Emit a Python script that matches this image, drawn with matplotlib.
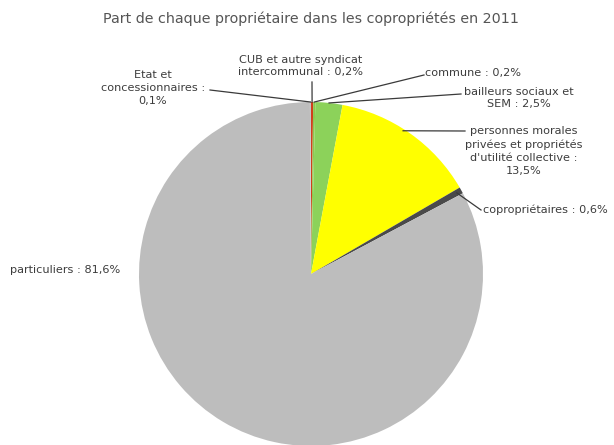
import matplotlib.pyplot as plt
import numpy as np

# share of each owner type, in drawing order (clockwise from the top)
owners = ["CUB", "commune", "bailleurs", "personnes morales", "copropriétaires", "particuliers", "Etat"]
shares = [0.2, 0.2, 2.5, 13.5, 0.6, 81.6, 0.1]
colors = ["#d0401c", "#8cc850", "#8cd25a", "#ffff00", "#4a4a4a", "#bdbdbd", "#c4c4c4"]
labels = [
    "CUB et autre syndicat\nintercommunal : 0,2%",
    "commune : 0,2%",
    "bailleurs sociaux et\nSEM : 2,5%",
    "personnes morales\nprivées et propriétés\nd'utilité collective :\n13,5%",
    "copropriétaires : 0,6%",
    "particuliers : 81,6%",
    "Etat et\nconcessionnaires :\n0,1%",
]

W, H = 614, 445
fig = plt.figure(figsize=(W / 100, H / 100), dpi=100)
ax = fig.add_axes([0, 0, 1, 1])

cx, cy, r = 311, H - 274, 172
wedges, _ = ax.pie(shares, colors=colors, startangle=90, counterclock=False,
                   center=(cx, cy), radius=r, frame=True,
                   wedgeprops=dict(linewidth=0))
ax.set_xlim(0, W)
ax.set_ylim(0, H)
ax.set_aspect("equal")
ax.axis("off")


def edge(w, frac=0.5, rad=1.0):
    a = np.deg2rad(w.theta1 + (w.theta2 - w.theta1) * frac)
    return cx + r * rad * np.cos(a), cy + r * rad * np.sin(a)


txt = dict(fontsize=8.1, color="#3c3c3c", family="DejaVu Sans", linespacing=1.35)
lc = dict(color="#3a3a3a", lw=0.9)

# label positions (pixels from top-left) and where the leader line ends
place = {
    "CUB": ((301, 66), "center", (312, 82)),
    "commune": ((425, 73), "left", (424, 75)),
    "bailleurs": ((519, 98), "center", (461, 94)),
    "personnes morales": ((524, 151), "center", (465, 131)),
    "copropriétaires": ((483, 210), "left", (481, 210)),
    "particuliers": ((10, 270), "left", None),
    "Etat": ((153, 88), "center", (210, 90)),
}

for w, key, lab in zip(wedges, owners, labels):
    (tx, ty), ha, end = place[key]
    ax.text(tx, H - ty, lab, ha=ha, va="center", **txt)
    if end is not None:
        if key == "personnes morales":
            sx, sy = edge(w, 0.55, 0.99)
        elif key == "copropriétaires":
            sx, sy = edge(w, 0.5, 0.97)
        else:
            sx, sy = edge(w, 0.5)
        ax.plot([sx, end[0]], [sy, H - end[1]], **lc)

ax.text(311, H - 19, "Part de chaque propriétaire dans les copropriétés en 2011",
        ha="center", va="center", fontsize=10.3, color="#555555", family="DejaVu Sans")

fig.savefig("out.png", dpi=100)
